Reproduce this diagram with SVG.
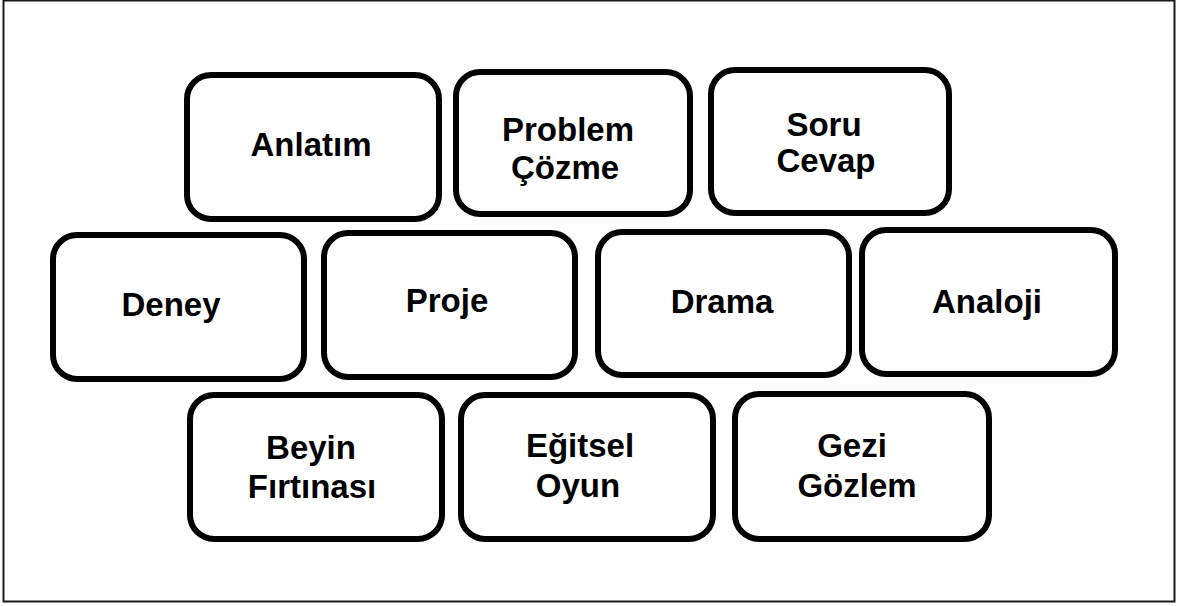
<svg xmlns="http://www.w3.org/2000/svg" width="1177" height="606" viewBox="0 0 1177 606">
  <style>
    .frame { fill: #ffffff; stroke: #1a1a1a; stroke-width: 2; }
    .box { fill: #ffffff; stroke: #000000; stroke-width: 6; }
    .label { font-family: "Liberation Sans", Arial, sans-serif; font-weight: bold; font-size: 33px; fill: #000000; text-anchor: middle; }
  </style>
  <rect width="1177" height="606" fill="#ffffff"/>
  <rect class="frame" x="3.5" y="0.5" width="1171" height="601"/>

  <!-- row 1 -->
  <g id="anlatim">
    <rect class="box" x="187" y="75" width="252" height="144" rx="24"/>
    <text class="label" x="311" y="156">Anlatım</text>
  </g>
  <g id="problem-cozme">
    <rect class="box" x="456" y="72" width="234" height="142" rx="24"/>
    <text class="label" x="568" y="141">Problem</text>
    <text class="label" x="565" y="179">Çözme</text>
  </g>
  <g id="soru-cevap">
    <rect class="box" x="711" y="70" width="238" height="143" rx="24"/>
    <text class="label" x="824" y="136">Soru</text>
    <text class="label" x="826" y="172">Cevap</text>
  </g>

  <!-- row 2 -->
  <g id="deney">
    <rect class="box" x="53" y="235" width="251" height="144" rx="24"/>
    <text class="label" x="171" y="316">Deney</text>
  </g>
  <g id="proje">
    <rect class="box" x="324" y="233" width="251" height="144" rx="24"/>
    <text class="label" x="447" y="312">Proje</text>
  </g>
  <g id="drama">
    <rect class="box" x="598" y="232" width="251" height="143" rx="24"/>
    <text class="label" x="722" y="313">Drama</text>
  </g>
  <g id="analoji">
    <rect class="box" x="862" y="230" width="253" height="144" rx="24"/>
    <text class="label" x="987" y="313">Analoji</text>
  </g>

  <!-- row 3 -->
  <g id="beyin-firtinasi">
    <rect class="box" x="190" y="395" width="252" height="144" rx="24"/>
    <text class="label" x="311" y="459">Beyin</text>
    <text class="label" x="312" y="498">Fırtınası</text>
  </g>
  <g id="egitsel-oyun">
    <rect class="box" x="461" y="395" width="252" height="144" rx="24"/>
    <text class="label" x="580" y="457">Eğitsel</text>
    <text class="label" x="578" y="497">Oyun</text>
  </g>
  <g id="gezi-gozlem">
    <rect class="box" x="735" y="394" width="254" height="145" rx="24"/>
    <text class="label" x="852" y="457">Gezi</text>
    <text class="label" x="857" y="497">Gözlem</text>
  </g>

  <g id="connectors"/>
</svg>
